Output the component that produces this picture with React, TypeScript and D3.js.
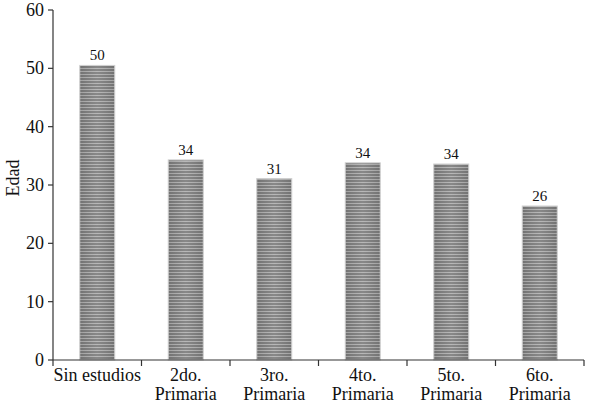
import React from "react";
import * as d3 from "d3";

const categories: string[][] = [
  ["Sin estudios"],
  ["2do.", "Primaria"],
  ["3ro.", "Primaria"],
  ["4to.", "Primaria"],
  ["5to.", "Primaria"],
  ["6to.", "Primaria"],
];
const values: number[] = [50.5, 34.3, 31.1, 33.8, 33.6, 26.4];
const valueLabels: string[] = ["50", "34", "31", "34", "34", "26"];
const yTicks: number[] = [0, 10, 20, 30, 40, 50, 60];
const yTitle = "Edad";

const W = 589;
const H = 405;
const left = 53;
const right = 584;
const font = "'Liberation Serif', 'Times New Roman', Times, serif";

export default function App() {
  const x = d3
    .scaleBand<number>()
    .domain(categories.map((_, i) => i))
    .range([left, right]);
  const y = d3.scaleLinear().domain([0, 60]).range([360, 10]);
  const step = x.step();
  const bw = 35;

  return (
    <svg
      width={W}
      height={H}
      style={{ position: "absolute", left: 0, top: 0, background: "#fff", fontFamily: font }}
    >
      <defs>
        <pattern id="stripes" width="4" height="3" patternUnits="userSpaceOnUse">
          <rect width="4" height="3" fill="#7e7e7e" />
          <rect y="2" width="4" height="1" fill="#b2b2b2" />
        </pattern>
        <linearGradient id="shade" x1="0" x2="1" y1="0" y2="0">
          <stop offset="0" stopColor="#000" stopOpacity="0.1" />
          <stop offset="0.5" stopColor="#fff" stopOpacity="0.08" />
          <stop offset="1" stopColor="#000" stopOpacity="0.1" />
        </linearGradient>
      </defs>
      {values.map((v, i) => {
        const cx = (x(i) as number) + step / 2;
        const x0 = cx - bw / 2;
        const yt = y(v);
        return (
          <g key={i}>
            <rect x={x0} y={yt} width={bw} height={y(0) - yt} fill="url(#stripes)" />
            <rect x={x0} y={yt} width={bw} height={y(0) - yt} fill="url(#shade)" stroke="#d0d0d0" strokeWidth={1} />
            <text x={cx} y={yt - 5} textAnchor="middle" fontSize={15} fill="#111" style={{ fontFamily: font }}>
              {valueLabels[i]}
            </text>
          </g>
        );
      })}
      <line x1={left} x2={left} y1={y(60)} y2={y(0)} stroke="#333" strokeWidth={1.2} />
      {yTicks.map((t) => (
        <g key={t}>
          <line x1={left - 5} x2={left} y1={y(t)} y2={y(t)} stroke="#333" strokeWidth={1.2} />
          <text x={left - 9} y={y(t) + 6} textAnchor="end" fontSize={18} fill="#111" style={{ fontFamily: font }}>
            {t}
          </text>
        </g>
      ))}
      <line x1={left} x2={right} y1={y(0)} y2={y(0)} stroke="#333" strokeWidth={1.2} />
      {d3.range(categories.length + 1).map((i) => (
        <line
          key={i}
          x1={left + step * i}
          x2={left + step * i}
          y1={y(0)}
          y2={y(0) + 6}
          stroke="#333"
          strokeWidth={1.2}
        />
      ))}
      {categories.map((lines, i) => {
        const cx = (x(i) as number) + step / 2;
        return (
          <text key={i} x={cx} y={381} textAnchor="middle" fontSize={18} fill="#111" style={{ fontFamily: font }}>
            {lines.map((l, j) => (
              <tspan key={j} x={cx} dy={j === 0 ? 0 : 18.5}>
                {l}
              </tspan>
            ))}
          </text>
        );
      })}
      <text
        transform={`translate(19, 178) rotate(-90)`}
        textAnchor="middle"
        fontSize={18}
        fill="#111"
        style={{ fontFamily: font }}
      >
        {yTitle}
      </text>
    </svg>
  );
}
